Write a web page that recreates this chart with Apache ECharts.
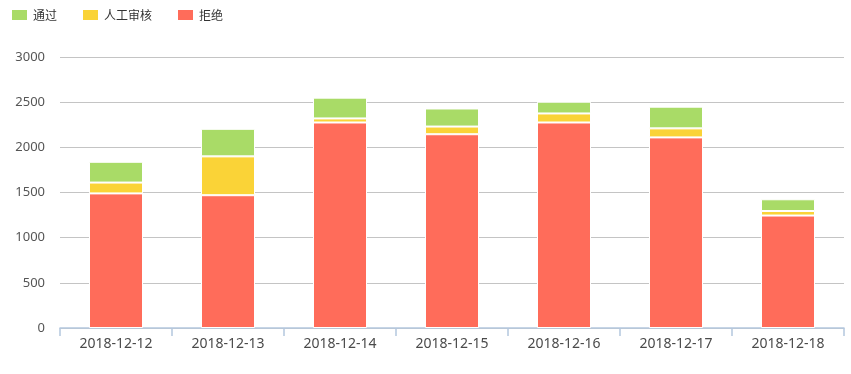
<!DOCTYPE html>
<html><head><meta charset="utf-8">
<script src="https://cdn.jsdelivr.net/npm/echarts@6/dist/echarts.min.js"></script>
<style>html,body{margin:0;padding:0;background:#fff}#c{width:851px;height:374px}</style>
</head><body><div id="c"></div>
<script>
const categories = ['2018-12-12','2018-12-13','2018-12-14','2018-12-15','2018-12-16','2018-12-17','2018-12-18'];
const passVals   = [230, 305, 230, 200, 130, 240, 130];
const manualVals = [120, 430, 45, 85, 100, 100, 50];
const rejectVals = [1490, 1470, 2275, 2145, 2275, 2110, 1245];
const yTicks = [0, 500, 1000, 1500, 2000, 2500, 3000];

const chart = echarts.init(document.getElementById('c'));
const font = '"Noto Sans","Noto Sans CJK SC",sans-serif';
function s(name, data, color){
  return {name, type:'bar', stack:'t', data, barWidth:54,
    itemStyle:{color, borderColor:'#fff', borderWidth:1}};
}
chart.setOption({
  animation:false,
  textStyle:{fontFamily:font},
  legend:{left:5, top:3, itemWidth:17, itemHeight:12, itemGap:24, icon:'rect',
    textStyle:{fontSize:12, color:'#333', fontFamily:'"Noto Sans CJK SC",sans-serif'},
    data:['通过','人工审核','拒绝']},
  grid:{left:60, right:7, top:57, bottom:46},
  xAxis:{type:'category', data:categories, boundaryGap:true,
    axisLine:{show:true, lineStyle:{color:'#b4c8de', width:1.5}},
    axisTick:{show:true, alignWithLabel:false, interval:0, length:8, lineStyle:{color:'#b4c8de', width:1.5}},
    axisLabel:{fontSize:14, color:'#4a4a4a', margin:9, fontFamily:font}},
  yAxis:{type:'value', min:yTicks[0], max:yTicks[yTicks.length-1], interval:500,
    axisLine:{show:false}, axisTick:{show:false},
    splitLine:{lineStyle:{color:'#c4c4c4'}},
    axisLabel:{fontSize:13, color:'#555', margin:15, fontFamily:font,
      formatter:v => String(v)}},
  series:[
    s('拒绝', rejectVals, '#ff6c5a'),
    s('人工审核', manualVals, '#fad337'),
    s('通过', passVals, '#a9db67')
  ]
});
</script></body></html>
